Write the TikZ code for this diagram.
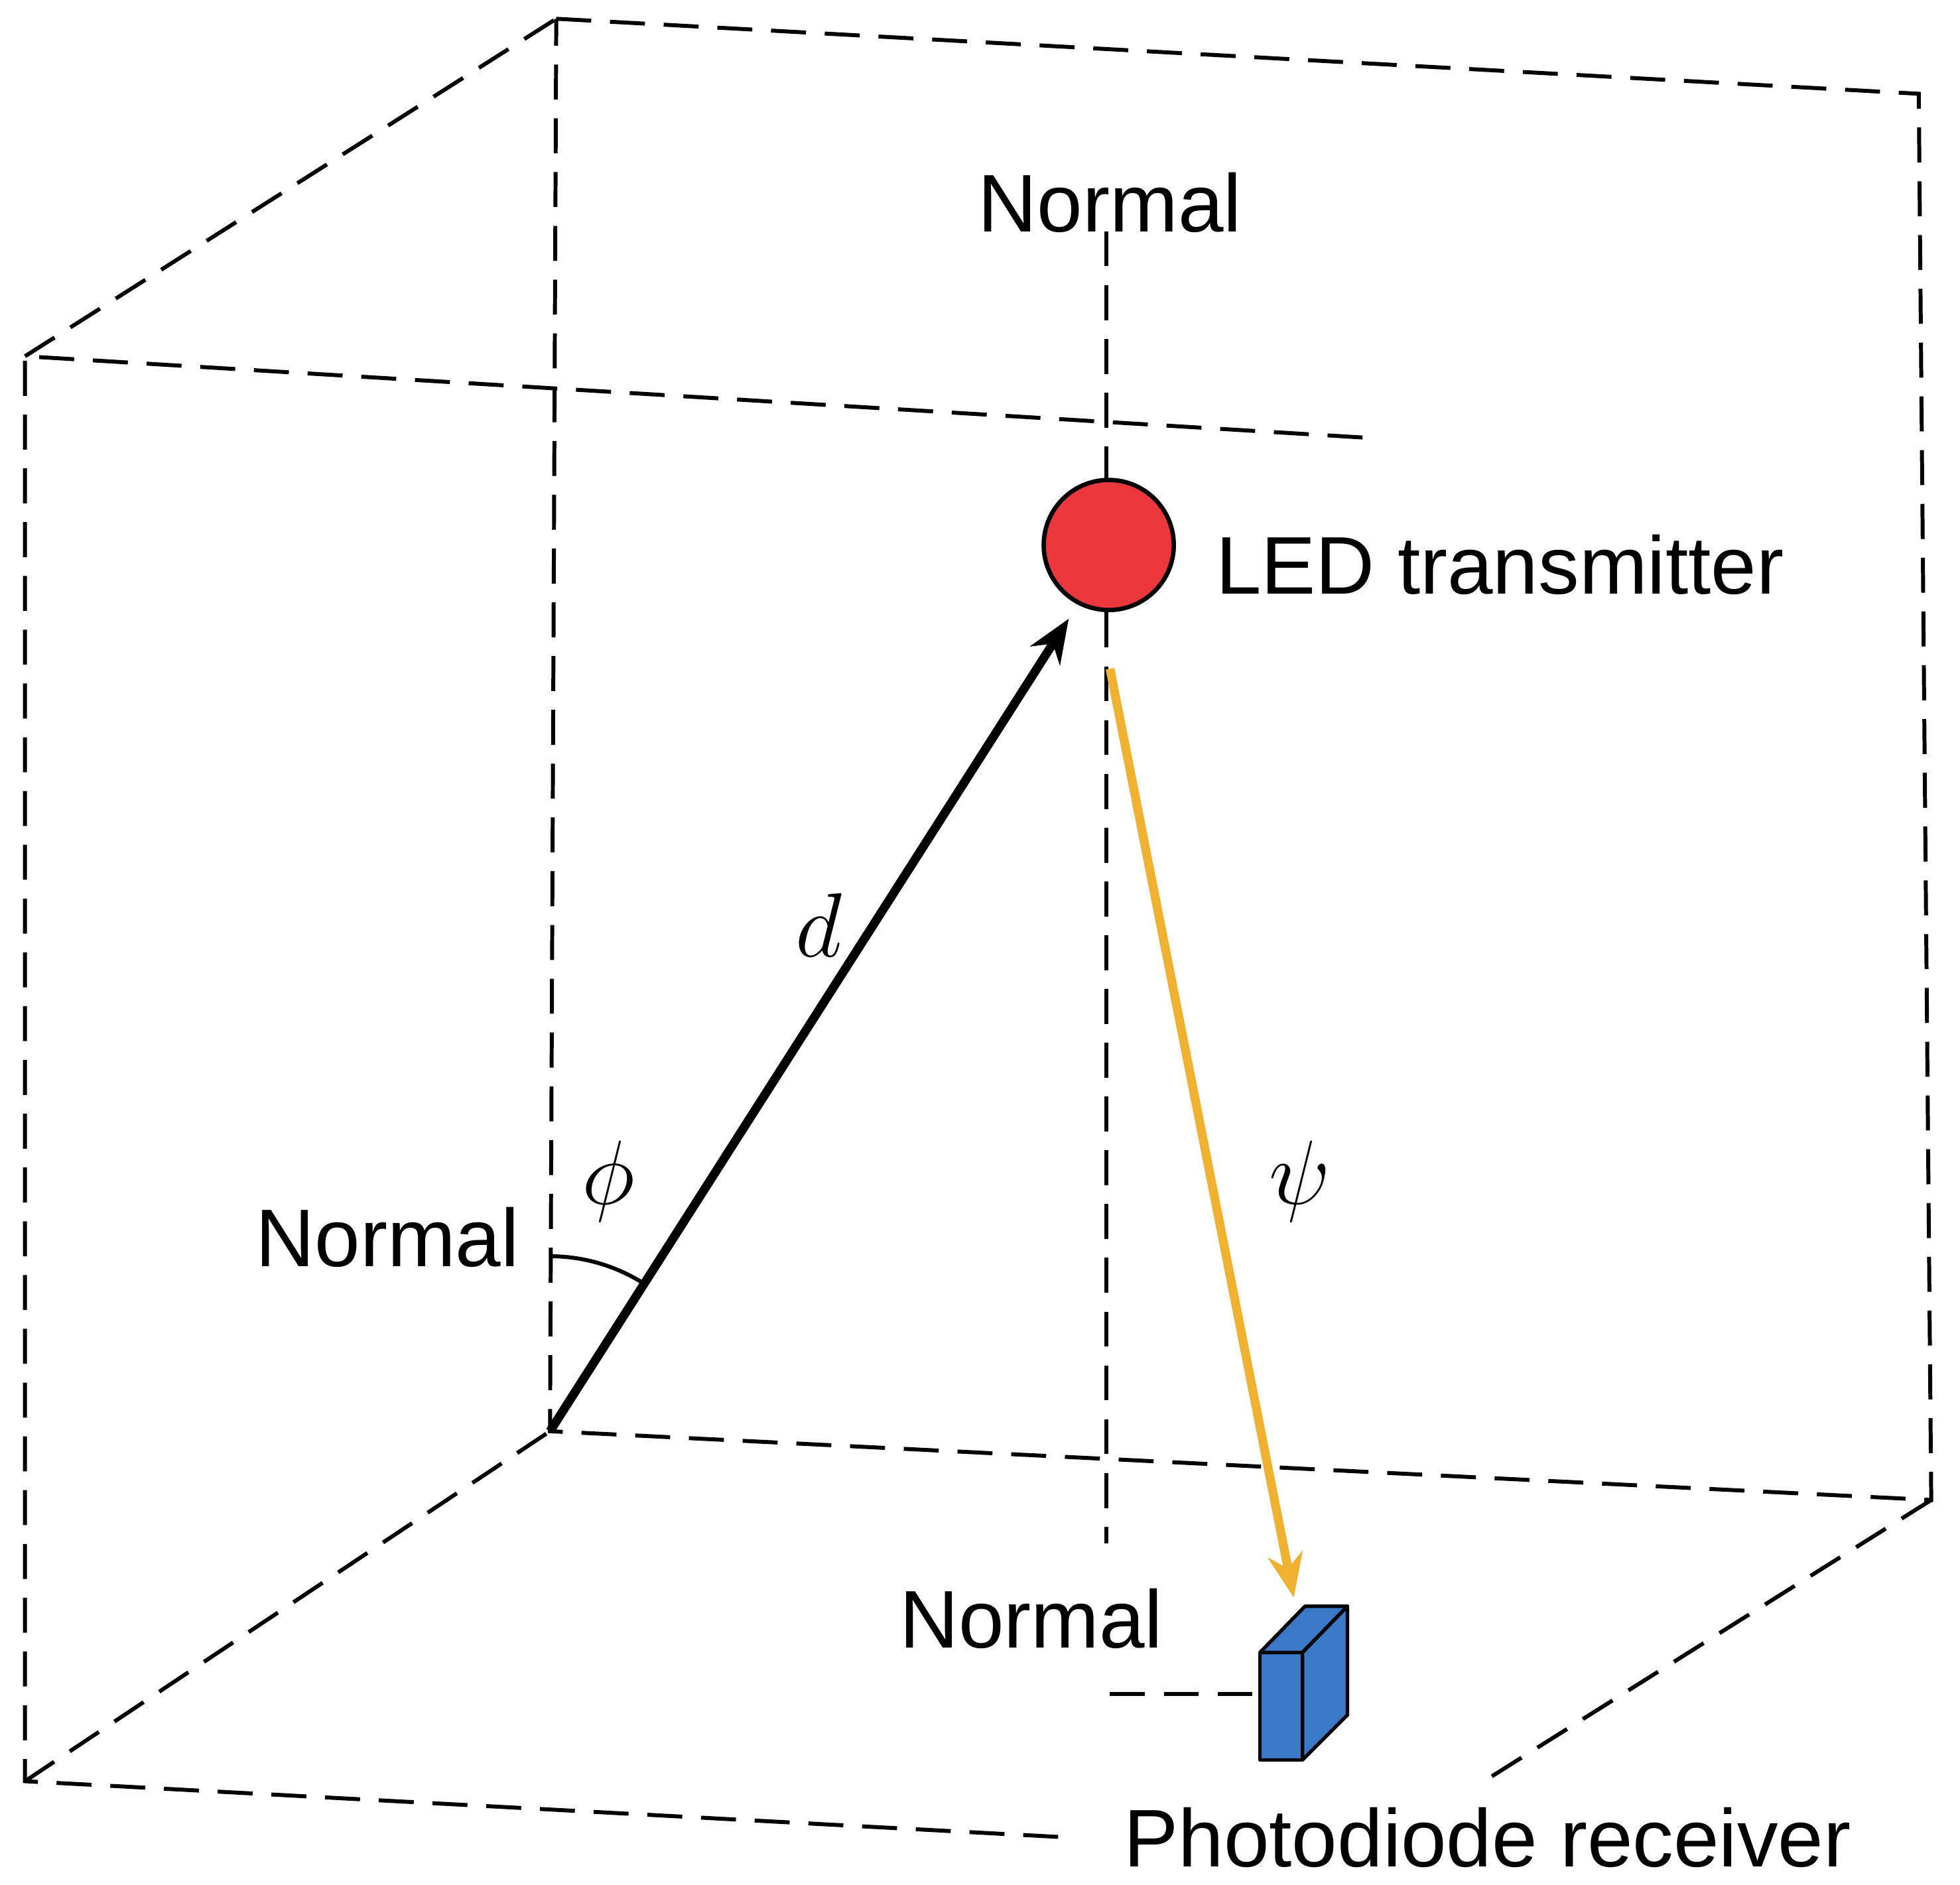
\documentclass[tikz,border=0pt]{standalone}
\usepackage{fontspec}
\setmainfont{Liberation Sans}
\usetikzlibrary{arrows.meta}
\definecolor{ledred}{RGB}{236,56,60}
\definecolor{pdblue}{RGB}{58,120,200}
\definecolor{rayor}{RGB}{240,176,48}
\begin{document}
\begin{tikzpicture}[x=0.01cm,y=-0.01cm,
  dsh/.style={line width=0.9pt,dash pattern=on 0.28cm off 0.15cm},
  lbl/.style={font=\fontsize{18.6}{20}\selectfont,inner sep=0pt},
  mth/.style={font=\fontsize{22}{24}\selectfont,inner sep=0pt},
  pdf/.style={fill=pdblue,draw=black,line width=0.8pt,line join=round}]
\useasboundingbox (0,0) rectangle (1568,1508);
% cube
\coordinate (btl) at (445,15); \coordinate (btr) at (1535,75);
\coordinate (bbr) at (1545,1200); \coordinate (bbl) at (440,1145);
\coordinate (ftl) at (20,285); \coordinate (fbl) at (20,1425);
\coordinate (fte) at (1090,350); \coordinate (fbe) at (855,1470);
\coordinate (rbe) at (1192,1422);
\draw[dsh] (btl)--(btr)--(bbr)--(bbl)--cycle;
\draw[dsh] (fte)--(ftl)--(fbl)--(fbe);
\draw[dsh] (ftl)--(btl);
\draw[dsh] (fbl)--(bbl);
\draw[dsh] (bbr)--(rbe);
% normal line
\coordinate (n1) at (885,185); \coordinate (n2) at (885,385);
\coordinate (n3) at (885,490); \coordinate (n4) at (885,1235);
\draw[dsh] (n1)--(n2); \draw[dsh] (n3)--(n4);
\node[circle,draw,line width=1pt,fill=ledred,minimum size=1.04cm,inner sep=0pt] (led) at (887,436) {};
% photodiode
\path[pdf] (1008,1322)--(1042,1322)--(1042,1408)--(1008,1408)--cycle;
\path[pdf] (1008,1322)--(1044,1285)--(1078,1285)--(1042,1322)--cycle;
\path[pdf] (1042,1322)--(1078,1285)--(1078,1372)--(1042,1408)--cycle;
\coordinate (pd) at (1035,1278);
\coordinate (pdl) at (888,1355); \coordinate (pdr) at (1005,1355);
\draw[dsh] (pdl)--(pdr);
% arrows
\coordinate (o) at (440,1145); \coordinate (ledb) at (855,495);
\draw[line width=2pt,-{Stealth[length=0.35cm,width=0.28cm]}] (o)--(ledb);
\coordinate (ls) at (888,535);
\draw[line width=2pt,rayor,-{Stealth[length=0.35cm,width=0.28cm]}] (ls)--(pd);
\draw[line width=0.9pt] (440,1005) arc[start angle=-90,end angle=-57.4,radius=140];
% labels
\node[lbl] (t1) at (888,162) {Normal};
\node[lbl,anchor=west] (t2) at (972,452) {LED transmitter};
\node[mth] (t3) at (655,740) {$d$};
\node[mth] (t4) at (487,945) {$\phi$};
\node[lbl] (t5) at (310,990) {Normal};
\node[mth] (t6) at (1040,945) {$\psi$};
\node[lbl] (t7) at (825,1295) {Normal};
\node[lbl] (t8) at (1190,1470) {Photodiode receiver};
\end{tikzpicture}
\end{document}
